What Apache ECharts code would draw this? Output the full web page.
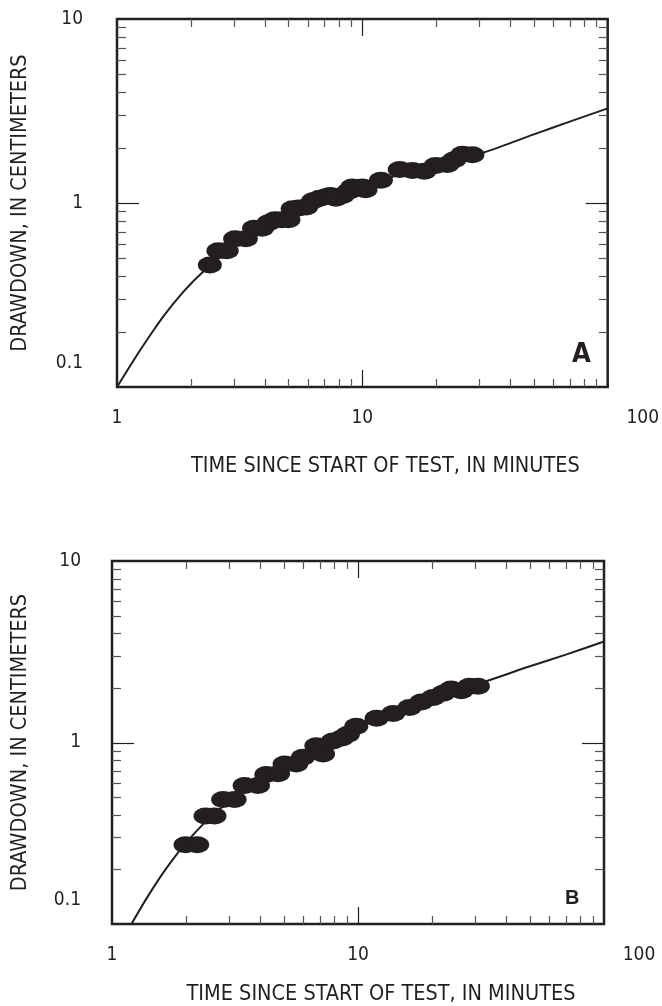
<!DOCTYPE html>
<html><head><meta charset="utf-8">
<script src="https://cdn.jsdelivr.net/npm/echarts@6/dist/echarts.min.js"></script>
<style>html,body{margin:0;padding:0;background:#fff}#c{width:662px;height:1006px}</style>
</head><body><div id="c"></div>
<script>
// ---- data ----
const xTickLabels = [1, 10, 100];
const yTickLabels = [0.1, 1, 10];
const xMinorTicks = [2, 3, 4, 5, 6, 7, 8, 9, 20, 30, 40, 50, 60, 70, 80, 90];
const xMajorTicks = [10];
const yMinorTicks = [0.2, 0.3, 0.4, 0.5, 0.6, 0.7, 0.8, 0.9, 2, 3, 4, 5, 6, 7, 8, 9];
const yMajorTicks = [1];

const timeA = [2.39, 2.59, 2.80, 3.03, 3.35, 3.62, 3.90, 4.15, 4.40, 4.70, 5.00, 5.20, 5.50, 5.90, 6.30, 6.70, 7.10, 7.40, 7.80, 8.30, 8.80, 9.10, 9.50, 10.0, 10.3, 11.9, 14.2, 16.0, 17.9, 19.9, 22.2, 23.7, 25.6, 28.1];
const drawA = [0.46, 0.55, 0.55, 0.64, 0.64, 0.73, 0.73, 0.78, 0.81, 0.81, 0.81, 0.93, 0.94, 0.95, 1.03, 1.06, 1.08, 1.10, 1.06, 1.10, 1.16, 1.22, 1.20, 1.22, 1.18, 1.33, 1.52, 1.50, 1.49, 1.60, 1.62, 1.72, 1.84, 1.83];
const curveTimeA = [1.0, 1.12, 1.24, 1.40, 1.57, 1.80, 2.0, 2.25, 2.6, 3.0, 4.0, 5.0, 7.0, 10.0, 14.0, 20.0, 30.4, 50.0, 70.0, 100.0];
const curveDrawA = [0.1, 0.1276, 0.158, 0.201, 0.249, 0.312, 0.364, 0.424, 0.505, 0.59, 0.74, 0.86, 1.03, 1.23, 1.42, 1.62, 1.86, 2.36, 2.77, 3.27];

const timeB = [1.99, 2.22, 2.40, 2.61, 2.83, 3.15, 3.46, 3.92, 4.24, 4.73, 5.03, 5.61, 5.97, 6.77, 7.21, 7.91, 8.60, 9.10, 9.84, 11.9, 13.9, 16.2, 18.1, 20.2, 22.2, 23.9, 26.3, 28.4, 30.7];
const drawB = [0.273, 0.273, 0.394, 0.394, 0.485, 0.485, 0.58, 0.58, 0.667, 0.672, 0.762, 0.762, 0.83, 0.96, 0.864, 1.02, 1.06, 1.11, 1.23, 1.36, 1.445, 1.56, 1.67, 1.77, 1.87, 1.97, 1.93, 2.04, 2.04];
const curveTimeB = [1.2, 1.38, 1.59, 1.75, 1.92, 2.2, 2.5, 3.0, 4.0, 5.0, 7.0, 10.0, 14.0, 20.0, 32.3, 50.0, 70.0, 100.0];
const curveDrawB = [0.1, 0.138, 0.186, 0.223, 0.262, 0.324, 0.385, 0.475, 0.624, 0.754, 0.97, 1.25, 1.50, 1.77, 2.15, 2.63, 3.05, 3.6];

const xTitle = 'TIME SINCE START OF TEST, IN MINUTES';
const yTitle = 'DRAWDOWN, IN CENTIMETERS';

// ---- font detection ----
function hasFont(f) {
  const c = document.createElement('canvas').getContext('2d');
  const s = 'TIME SINCE START 0123';
  c.font = '40px monospace'; const a = c.measureText(s).width;
  c.font = '40px "' + f + '", monospace'; const b = c.measureText(s).width;
  return a !== b;
}
const narrow = hasFont('Liberation Sans Narrow');
const FONT = narrow ? '"Liberation Sans Narrow", "DejaVu Sans Condensed", sans-serif' : '"DejaVu Sans Condensed", sans-serif';
const FS = narrow ? 22 : 19;      // tick labels
const FT = narrow ? 24 : 21.5;    // axis titles
const INK = '#231f20';

const chart = echarts.init(document.getElementById('c'), null, {renderer: 'canvas'});

const grids = [
  {left: 117, top: 19, width: 492, height: 368},
  {left: 112, top: 561, width: 492, height: 367}
];

function near(a, b) { return Math.abs(a - b) < 1e-6 * Math.max(1, Math.abs(b)); }

function xAxisFor(i, nameGap) {
  return {
    type: 'log', gridIndex: i, min: xTickLabels[0], max: xTickLabels[xTickLabels.length - 1], logBase: 10,
    axisLine: {show: false}, axisTick: {show: false}, splitLine: {show: false}, minorTick: {show: false},
    axisLabel: {
      margin: 22, color: INK, fontFamily: FONT, fontSize: FS,
      formatter: v => near(v, xTickLabels[2]) ? '{r|' + xTickLabels[2] + '}' : String(xTickLabels.find(t => near(t, v)) ?? v),
      rich: {r: {padding: [0, 0, 0, 70], color: INK, fontFamily: FONT, fontSize: FS}}
    },
    name: xTitle, nameLocation: 'middle', nameGap: nameGap,
    nameTextStyle: {color: INK, fontFamily: FONT, fontSize: FT, padding: [0, 0, 0, 46]}
  };
}
function yAxisFor(i, margin, nameGap) {
  return {
    type: 'log', gridIndex: i, min: yTickLabels[0], max: yTickLabels[yTickLabels.length - 1], logBase: 10,
    axisLine: {show: false}, axisTick: {show: false}, splitLine: {show: false}, minorTick: {show: false},
    axisLabel: {
      margin: margin, color: INK, fontFamily: FONT, fontSize: FS,
      formatter: v => near(v, yTickLabels[0]) ? '{b|' + yTickLabels[0] + '}' : String(yTickLabels.find(t => near(t, v)) ?? v),
      rich: {b: {padding: [0, 0, 48, 0], color: INK, fontFamily: FONT, fontSize: FS}}
    },
    name: yTitle, nameLocation: 'middle', nameGap: nameGap, nameRotate: 90,
    nameTextStyle: {color: INK, fontFamily: FONT, fontSize: FT}
  };
}

function tickSeries(i, ticks, dir, len, color) {
  return {
    type: 'custom', xAxisIndex: i, yAxisIndex: i, silent: true, clip: false, z: 5,
    data: ticks.map(v => dir === 'x' ? [v, 1] : [1, v]),
    renderItem(params, api) {
      const cs = params.coordSys;
      const p = api.coord([api.value(0), api.value(1)]);
      const style = {stroke: color, lineWidth: 1.2};
      if (dir === 'x') {
        const x = Math.round(p[0]) + 0.5;
        return {type: 'group', children: [
          {type: 'line', shape: {x1: x, y1: cs.y + cs.height, x2: x, y2: cs.y + cs.height - len}, style},
          {type: 'line', shape: {x1: x, y1: cs.y, x2: x, y2: cs.y + len}, style}
        ]};
      }
      const y = Math.round(p[1]) + 0.5;
      return {type: 'group', children: [
        {type: 'line', shape: {x1: cs.x, y1: y, x2: cs.x + len, y2: y}, style},
        {type: 'line', shape: {x1: cs.x + cs.width, y1: y, x2: cs.x + cs.width - len, y2: y}, style}
      ]};
    }
  };
}

function panelSeries(i, t, d, ct, cd) {
  return [
    {type: 'line', xAxisIndex: i, yAxisIndex: i, data: ct.map((v, k) => [v, cd[k]]), smooth: 0.3,
     showSymbol: false, symbol: 'none', lineStyle: {color: INK, width: 2}, clip: true, z: 3, silent: true},
    {type: 'scatter', xAxisIndex: i, yAxisIndex: i, data: t.map((v, k) => [v, d[k]]),
     symbol: 'circle', symbolSize: [24, 17], itemStyle: {color: INK, opacity: 1}, z: 4, silent: true},
    tickSeries(i, xMinorTicks, 'x', 8, '#555'),
    tickSeries(i, xMajorTicks, 'x', 17, INK),
    tickSeries(i, yMinorTicks, 'y', 9, '#555'),
    tickSeries(i, yMajorTicks, 'y', 22, INK)
  ];
}

chart.setOption({
  animation: false,
  backgroundColor: '#fff',
  grid: grids.map(g => Object.assign({show: true, borderColor: INK, borderWidth: 2.5, backgroundColor: 'transparent', containLabel: false}, g)),
  xAxis: [xAxisFor(0, 68), xAxisFor(1, 59)],
  yAxis: [yAxisFor(0, 34, 86), yAxisFor(1, 31, 81)],
  series: [].concat(
    panelSeries(0, timeA, drawA, curveTimeA, curveDrawA),
    panelSeries(1, timeB, drawB, curveTimeB, curveDrawB)
  ),
  graphic: [
    {type: 'text', left: 572, top: 341, style: {text: 'A', fill: INK, font: 'bold 27px ' + FONT}},
    {type: 'text', left: 565, top: 888, style: {text: 'B', fill: INK, font: 'bold 20px "Liberation Sans", Arial, sans-serif'}}
  ]
});
</script></body></html>
